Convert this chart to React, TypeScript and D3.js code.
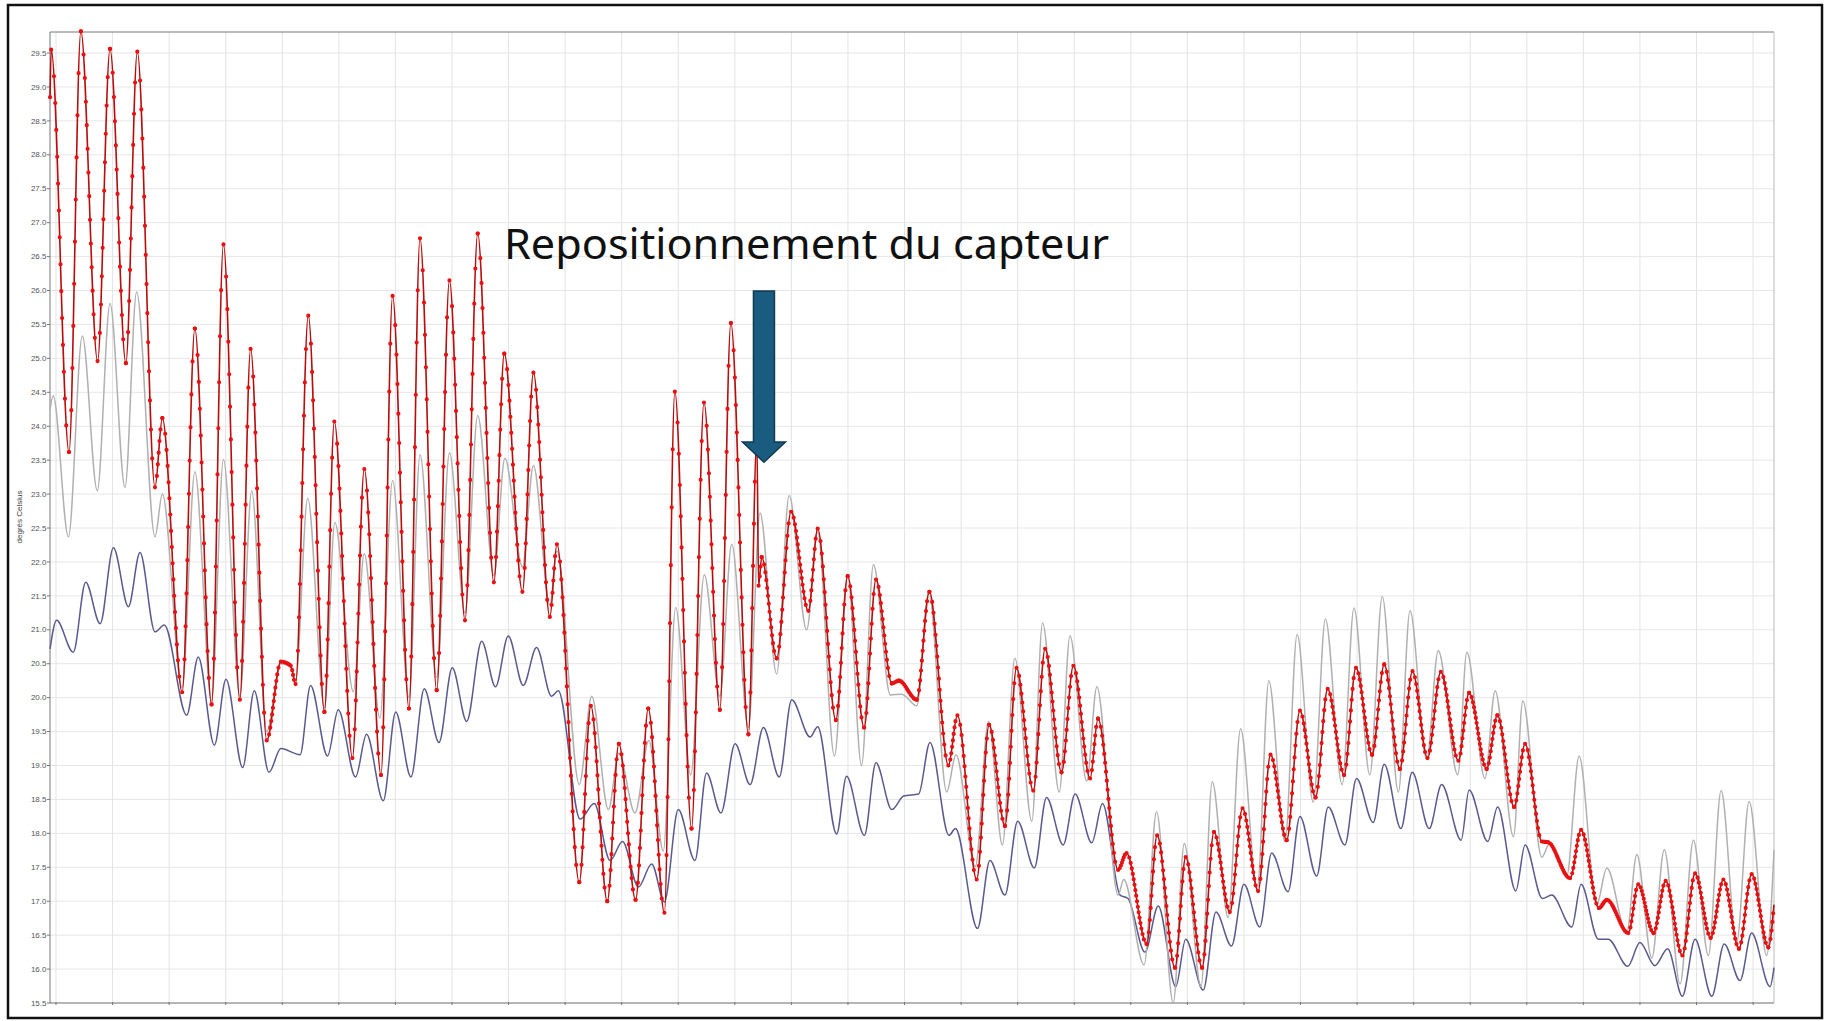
import React from "react";
import * as d3 from "d3";

const W = 1831;
const H = 1021;

// time in days, temperature in °C
const sensorSeries: [number, number][] = [
  [-0.21, 28.85], [-0.17, 29.55], [0.46, 23.62], [0.88, 29.82], [1.47, 24.96], [1.91, 29.56],
  [2.47, 24.93], [2.875, 29.52], [3.5, 23.1], [3.76, 24.12], [4.46, 20.08], [4.91, 25.44],
  [5.5, 19.9], [5.92, 26.68], [6.5, 19.97], [6.88, 25.14], [7.45, 19.37], [7.95, 20.53],
  [8.3, 20.47], [8.47, 20.2], [8.92, 25.63], [9.49, 19.79], [9.84, 24.07], [10.48, 19.11],
  [10.9, 23.37], [11.49, 18.86], [11.9, 25.92], [12.48, 19.84], [12.87, 26.77], [13.46, 20.11],
  [13.91, 26.15], [14.46, 21.14], [14.91, 26.84], [15.48, 21.7], [15.85, 25.07], [16.49, 21.56],
  [16.88, 24.79], [17.46, 21.19], [17.71, 22.26], [18.5, 17.28], [18.91, 19.88], [19.49, 17.0],
  [19.9, 19.32], [20.49, 17.02], [20.94, 19.84], [21.51, 16.83], [21.88, 24.51], [22.47, 18.07],
  [22.91, 24.35], [23.47, 19.82], [23.86, 25.52], [24.48, 19.46], [24.78, 23.8], [24.84, 21.65],
  [24.95, 22.07], [25.48, 20.58], [25.99, 22.74], [26.6, 21.28], [26.93, 22.49], [27.57, 19.67],
  [27.99, 21.79], [28.57, 19.56], [28.99, 21.74], [29.55, 20.21], [29.8, 20.25], [30.43, 19.97],
  [30.88, 21.56], [31.55, 19.0], [31.87, 19.74], [32.55, 17.32], [32.99, 19.6], [33.55, 18.11],
  [33.96, 20.44], [34.55, 18.63], [34.97, 20.72], [35.55, 18.9], [35.97, 20.47], [36.56, 18.81],
  [36.84, 19.69], [37.55, 17.46], [37.85, 17.71], [38.56, 16.37], [38.93, 17.97], [39.56, 16.02],
  [39.94, 17.65], [40.52, 16.02], [40.94, 18.02], [41.5, 16.84], [41.95, 18.37], [42.5, 17.15],
  [42.94, 19.16], [43.51, 17.9], [43.98, 19.81], [44.53, 18.53], [44.96, 20.13], [45.54, 18.86],
  [45.96, 20.44], [46.53, 19.16], [46.96, 20.49], [47.51, 18.95], [47.96, 20.39], [48.49, 19.11],
  [48.96, 20.38], [49.58, 19.07], [49.96, 20.07], [50.58, 18.95], [50.96, 19.74], [51.55, 18.39],
  [51.94, 19.32], [52.53, 17.88], [52.75, 17.87], [53.53, 17.34], [53.92, 18.05], [54.55, 16.9],
  [54.83, 17.02], [55.59, 16.53], [55.94, 17.25], [56.48, 16.53], [56.91, 17.3], [57.5, 16.2],
  [57.95, 17.41], [58.5, 16.46], [58.95, 17.32], [59.5, 16.3], [59.95, 17.4], [60.54, 16.32],
  [60.74, 16.95],
];

const greySeries: [number, number][] = [
  [-0.21, 24.25], [-0.1, 24.45], [0.44, 22.37], [0.93, 25.33], [1.46, 23.05], [1.91, 25.81],
  [2.44, 23.1], [2.85, 25.98], [3.5, 22.37], [3.76, 23.0], [4.46, 20.15], [4.91, 23.33],
  [5.5, 19.95], [5.92, 23.51], [6.5, 20.02], [6.92, 23.05], [7.45, 19.5], [7.95, 20.5],
  [8.3, 20.45], [8.47, 20.25], [8.9, 22.94], [9.49, 19.85], [9.86, 22.58], [10.51, 20.09],
  [10.9, 22.12], [11.45, 19.7], [11.9, 23.2], [12.48, 20.0], [12.87, 23.58], [13.46, 20.3],
  [13.91, 23.61], [14.46, 21.25], [14.91, 24.16], [15.48, 21.8], [15.87, 23.53], [16.49, 21.93],
  [16.88, 23.42], [17.46, 21.37], [17.71, 22.16], [18.5, 18.72], [18.94, 20.02], [19.53, 18.35],
  [19.9, 19.18], [20.47, 18.3], [20.96, 19.37], [21.47, 17.74], [21.91, 21.33], [22.44, 18.86],
  [22.92, 21.81], [23.47, 20.02], [23.89, 22.26], [24.48, 19.56], [24.89, 22.72], [25.48, 20.35],
  [25.92, 22.98], [26.54, 21.0], [26.93, 22.44], [27.52, 19.14], [27.99, 21.81], [28.48, 19.0],
  [28.9, 21.96], [29.5, 20.04], [29.9, 20.05], [30.43, 19.88], [30.86, 21.56], [31.49, 18.61],
  [31.82, 19.16], [32.5, 17.51], [32.97, 19.65], [33.46, 17.83], [33.9, 20.58], [34.5, 18.18],
  [34.88, 21.1], [35.47, 18.61], [35.85, 20.91], [36.44, 18.77], [36.8, 20.16], [37.55, 17.09],
  [37.75, 17.32], [38.47, 16.06], [38.91, 18.32], [39.5, 15.5], [39.89, 17.85], [40.48, 15.74],
  [40.88, 18.76], [41.44, 16.76], [41.88, 19.54], [42.47, 17.18], [42.88, 20.25], [43.45, 17.88],
  [43.88, 20.93], [44.45, 18.46], [44.88, 21.16], [45.47, 18.72], [45.89, 21.32], [46.45, 18.86],
  [46.89, 21.49], [47.46, 18.61], [47.87, 21.28], [48.46, 19.09], [48.87, 20.69], [49.56, 18.86],
  [49.88, 20.67], [50.52, 18.81], [50.88, 20.1], [51.53, 17.95], [51.86, 19.95], [52.53, 17.65],
  [52.82, 17.86], [53.41, 17.37], [53.85, 19.14], [54.47, 16.95], [54.83, 17.49], [55.53, 16.53],
  [55.89, 17.69], [56.42, 16.16], [56.86, 17.76], [57.42, 15.78], [57.89, 17.9], [58.42, 16.2],
  [58.87, 18.63], [59.42, 16.39], [59.86, 18.47], [60.48, 16.2], [60.74, 17.75],
];

const blueSeries: [number, number][] = [
  [-0.21, 20.72], [0.02, 21.14], [0.61, 20.67], [1.05, 21.7], [1.56, 21.09], [2.03, 22.21],
  [2.56, 21.34], [2.97, 22.14], [3.5, 20.97], [3.83, 21.07], [4.62, 19.74], [5.03, 20.6],
  [5.6, 19.3], [6.01, 20.27], [6.6, 18.97], [7.01, 20.1], [7.53, 18.9], [7.95, 19.25],
  [8.63, 19.16], [9.0, 20.18], [9.6, 19.14], [9.98, 19.82], [10.59, 18.83], [10.98, 19.46],
  [11.57, 18.48], [12.01, 19.79], [12.55, 18.83], [13.02, 20.13], [13.54, 19.34], [14.01, 20.44],
  [14.52, 19.65], [15.05, 20.83], [15.54, 20.16], [15.99, 20.91], [16.52, 20.18], [16.99, 20.74],
  [17.52, 20.02], [17.76, 20.1], [18.53, 18.21], [19.03, 18.44], [19.59, 17.6], [20.03, 17.88],
  [20.59, 17.21], [21.06, 17.55], [21.51, 16.99], [22.0, 18.35], [22.59, 17.6], [23.0, 18.89],
  [23.51, 18.3], [24.01, 19.32], [24.54, 18.72], [25.01, 19.56], [25.57, 18.83], [26.01, 19.97],
  [26.66, 19.42], [26.93, 19.57], [27.6, 17.99], [27.95, 18.84], [28.58, 17.97], [28.99, 19.04],
  [29.55, 18.35], [29.97, 18.55], [30.5, 18.58], [30.9, 19.34], [31.57, 17.97], [31.8, 18.07],
  [32.58, 16.6], [33.02, 17.6], [33.55, 17.09], [34.0, 18.18], [34.59, 17.49], [35.02, 18.53],
  [35.61, 17.83], [36.03, 18.58], [36.62, 17.86], [37.0, 18.44], [37.62, 17.09], [37.9, 17.04],
  [38.5, 16.25], [38.97, 16.93], [39.59, 15.74], [39.94, 16.44], [40.56, 15.69], [41.01, 16.84],
  [41.56, 16.34], [42.0, 17.25], [42.56, 16.62], [42.98, 17.71], [43.56, 17.14], [43.98, 18.25],
  [44.57, 17.37], [44.98, 18.39], [45.57, 17.83], [45.98, 18.81], [46.57, 18.16], [46.96, 19.02],
  [47.55, 18.07], [47.95, 18.9], [48.55, 18.07], [48.99, 18.72], [49.68, 17.9], [49.96, 18.64],
  [50.62, 17.88], [50.97, 18.39], [51.61, 17.15], [51.94, 17.83], [52.55, 17.04], [52.88, 17.09],
  [53.59, 16.62], [53.92, 17.25], [54.53, 16.44], [54.88, 16.44], [55.57, 16.04], [56.0, 16.39],
  [56.53, 16.05], [56.98, 16.3], [57.5, 15.6], [57.95, 16.44], [58.54, 15.6], [58.98, 16.37],
  [59.54, 15.83], [59.95, 16.53], [60.6, 15.74], [60.74, 16.02],
];

const yTickValues = [
  15.5, 16.0, 16.5, 17.0, 17.5, 18.0, 18.5, 19.0, 19.5, 20.0, 20.5, 21.0, 21.5, 22.0, 22.5,
  23.0, 23.5, 24.0, 24.5, 25.0, 25.5, 26.0, 26.5, 27.0, 27.5, 28.0, 28.5, 29.0, 29.5,
];
const xTickDays = [
  0, 2, 4, 6, 8, 10, 12, 14, 16, 18, 20, 22, 24, 26, 28, 30, 32, 34, 36, 38, 40, 42, 44, 46, 48,
  50, 52, 54, 56, 58, 60,
];
const yAxisTitle = "degrés Celsius";
const annotation = "Repositionnement du capteur";
const annotationDay = 25.03;
const annotationTipTemp = 23.47;

const plot = { left: 50, right: 1774, top: 32, bottom: 1003 };

const x = d3.scaleLinear().domain([-0.212, 60.74]).range([plot.left, plot.right]);
const y = d3.scaleLinear().domain([15.5, 29.81]).range([plot.bottom, plot.top]);

const lineGen = d3
  .line<[number, number]>()
  .x((d) => x(d[0]))
  .y((d) => y(d[1]))
  .curve(d3.curveMonotoneX);

function segments(data: [number, number][]) {
  const segs: { d: string; n: number }[] = [];
  let cx = 0;
  let cy = 0;
  let i = 0;
  const push = (d: string) => {
    const dt = data[i + 1][0] - data[i][0];
    segs.push({ d, n: Math.max(1, Math.round(dt * 24)) });
    i++;
  };
  const ctx: any = {
    moveTo(a: number, b: number) {
      cx = a;
      cy = b;
    },
    lineTo(a: number, b: number) {
      push(`M${cx},${cy}L${a},${b}`);
      cx = a;
      cy = b;
    },
    bezierCurveTo(a: number, b: number, c: number, d: number, e: number, f: number) {
      push(`M${cx},${cy}C${a},${b},${c},${d},${e},${f}`);
      cx = e;
      cy = f;
    },
    closePath() {},
  };
  d3.line<[number, number]>()
    .x((d) => x(d[0]))
    .y((d) => y(d[1]))
    .curve(d3.curveMonotoneX)
    .context(ctx)(data);
  return segs;
}

export default function App() {
  const sensorSegs = segments(sensorSeries);
  const ax = x(annotationDay);
  const shaftTop = 291;
  const headBase = 442;
  const tip = y(annotationTipTemp);
  const arrowPath = `M${ax - 10.5},${shaftTop} L${ax + 10.5},${shaftTop} L${ax + 10.5},${headBase} L${ax + 21.5},${headBase} L${ax},${tip} L${ax - 21.5},${headBase} L${ax - 10.5},${headBase} Z`;
  return (
    <div style={{ position: "absolute", left: 0, top: 0, width: W, height: H, background: "#fff" }}>
      <svg width={W} height={H} style={{ display: "block" }} fontFamily="'Liberation Sans', Arial, sans-serif">
        <rect x={0} y={0} width={W} height={H} fill="#fff" />
        {/* grid */}
        {yTickValues.map((v) => (
          <line key={"gy" + v} x1={plot.left} x2={plot.right} y1={y(v)} y2={y(v)} stroke="#e6e6e6" strokeWidth={1} />
        ))}
        {xTickDays.map((t) => (
          <line key={"gx" + t} x1={x(t)} x2={x(t)} y1={plot.top} y2={plot.bottom} stroke="#e3e3e8" strokeWidth={1} />
        ))}
        {/* frame of plot */}
        <line x1={plot.left} x2={plot.right} y1={plot.top} y2={plot.top} stroke="#777" strokeWidth={1} />
        <line x1={plot.right} x2={plot.right} y1={plot.top} y2={plot.bottom} stroke="#bbb" strokeWidth={1} />
        <line x1={plot.left} x2={plot.left} y1={plot.top} y2={plot.bottom} stroke="#777" strokeWidth={1} />
        <line x1={plot.left} x2={plot.right} y1={plot.bottom} y2={plot.bottom} stroke="#777" strokeWidth={1} />
        {/* y ticks */}
        {yTickValues.map((v) => (
          <g key={"ty" + v}>
            <line x1={plot.left - 3} x2={plot.left} y1={y(v)} y2={y(v)} stroke="#777" />
            <text x={plot.left - 3.5} y={y(v)} dy="0.33em" textAnchor="end" fontSize={8} fill="#555">
              {v.toFixed(1)}
            </text>
          </g>
        ))}
        {xTickDays.map((t) => (
          <line key={"tx" + t} x1={x(t)} x2={x(t)} y1={plot.bottom - 1} y2={plot.bottom + 2} stroke="#777" />
        ))}
        <text
          transform={`translate(22,517) rotate(-90)`}
          textAnchor="middle"
          fontSize={8}
          fill="#444"
        >
          {yAxisTitle}
        </text>
        {/* series */}
        <path d={lineGen(blueSeries) || ""} fill="none" stroke="#5a5a8e" strokeWidth={1.5} />
        <path d={lineGen(greySeries) || ""} fill="none" stroke="#b0b0b0" strokeWidth={1.5} />
        <path d={lineGen(sensorSeries) || ""} fill="none" stroke="#b80d0d" strokeWidth={1.6} />
        {sensorSegs.map((s, i) => (
          <path
            key={"s" + i}
            d={s.d}
            pathLength={s.n}
            fill="none"
            stroke="#e81010"
            strokeWidth={4.2}
            strokeLinecap="round"
            strokeDasharray="0 1"
          />
        ))}
        {/* annotation */}
        <text
          x={504}
          y={259}
          fontSize={42}
          fontFamily="'Noto Sans', 'Open Sans', sans-serif"
          fill="#111"
          textLength={605}
          lengthAdjust="spacingAndGlyphs"
        >
          {annotation}
        </text>
        <path d={arrowPath} fill="#1a5c80" stroke="#0f3a52" strokeWidth={1.5} strokeLinejoin="miter" />
        {/* outer frame */}
        <rect x={8} y={5} width={1814} height={1013} fill="none" stroke="#111" strokeWidth={2.5} />
      </svg>
    </div>
  );
}
